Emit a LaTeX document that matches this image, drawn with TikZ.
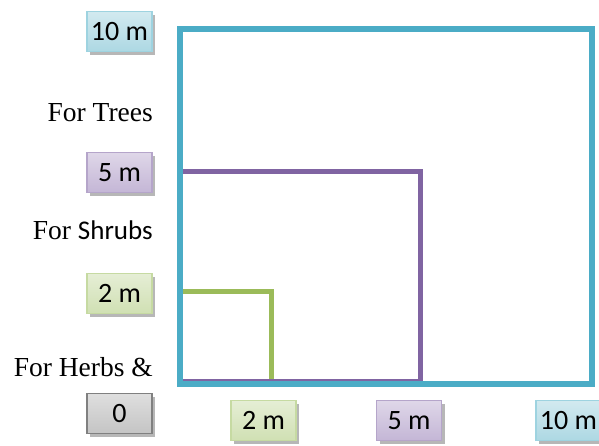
\documentclass[tikz,border=0pt]{standalone}
\usepackage{fontspec}
\setmainfont{Liberation Serif}
\newfontfamily\boxfont{Carlito}
\usetikzlibrary{shadows}
\tikzset{>=latex}

\definecolor{treeline}{HTML}{4BACC6}
\definecolor{shrubline}{HTML}{8064A2}
\definecolor{herbline}{HTML}{9BBB59}
\definecolor{tenfill}{HTML}{ADD8E3}
\definecolor{tenedge}{HTML}{9ED3E0}
\definecolor{fivefill}{HTML}{C4B6D6}
\definecolor{fiveedge}{HTML}{B5A5CA}
\definecolor{twofill}{HTML}{D0E0B3}
\definecolor{twoedge}{HTML}{C6DAA2}
\definecolor{zerofill}{HTML}{C4C4C4}
\definecolor{zeroedge}{HTML}{808080}

\tikzset{
  mbox/.style={minimum width=65pt, minimum height=40pt, inner sep=0pt, line width=1.5pt,
    font=\boxfont\fontsize{28}{30}\selectfont,
    drop shadow={shadow xshift=3pt, shadow yshift=-4pt, fill=black!40, opacity=.7}},
  tenbox/.style={mbox, draw=tenedge, top color=white!45!tenfill, bottom color=tenfill},
  fivebox/.style={mbox, draw=fiveedge, top color=white!45!fivefill, bottom color=fivefill},
  twobox/.style={mbox, draw=twoedge, top color=white!45!twofill, bottom color=twofill},
  zerobox/.style={mbox, draw=zeroedge, top color=white!45!zerofill, bottom color=zerofill},
  usetext/.style={anchor=base east, inner sep=0pt, font=\fontsize{27.5}{30}\selectfont}
}

\begin{document}
\begin{tikzpicture}[x=1pt, y=1pt]
    \useasboundingbox (0,0) rectangle (599,446);

    % plot squares
    \draw[herbline, line width=5pt] (180,154) -- (271,154) -- (271,63);
    \draw[shrubline, line width=5pt] (180,274) -- (420,274) -- (420,64) -- (180,64);
    \draw[treeline, line width=6pt, line cap=rect] (180,62) rectangle (592,417);

    % labels on the left
    \node[tenbox] (ten left) at (119.5,414.5) {10 m};
    \node[fivebox] (five left) at (119.5,273.5) {5 m};
    \node[twobox] (two left) at (119.5,152.5) {2 m};
    \node[zerobox] (zero) at (119.5,32.5) {0};

    % labels at the bottom
    \node[twobox] (two bottom) at (263.5,25.5) {2 m};
    \node[fivebox] (five bottom) at (409,25.5) {5 m};
    \node[tenbox] (ten bottom) at (568.5,25.5) {10 m};

    \node[usetext] (trees) at (153,324) {For Trees};
    \node[usetext] (shrubs) at (153,206) {For {\boxfont\fontsize{27}{30}\selectfont Shrubs}};
    \node[usetext] (herbs) at (153,69) {For Herbs \&};

\end{tikzpicture}
\end{document}
